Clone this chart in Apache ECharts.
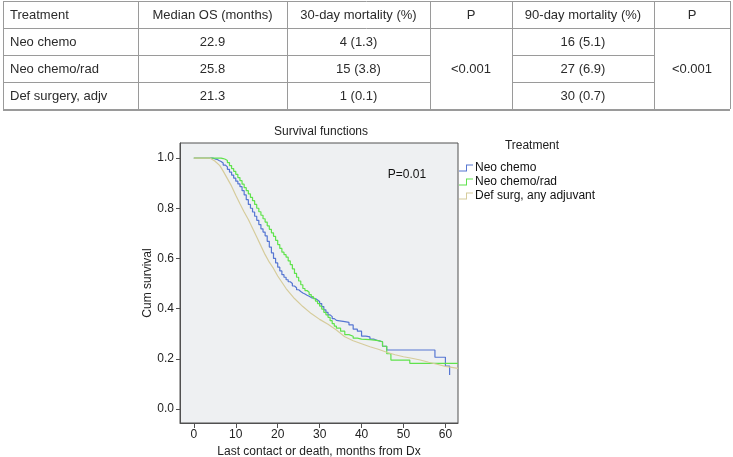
<!DOCTYPE html>
<html>
<head>
<meta charset="utf-8">
<script src="https://cdn.jsdelivr.net/npm/echarts@6/dist/echarts.min.js"></script>
<style>
  html, body { margin: 0; padding: 0; background: #fff; }
  #main { width: 733px; height: 457px; }
</style>
</head>
<body>
<div id="main"></div>
<script>
// table contents
var tableHeader = ['Treatment', 'Median OS (months)', '30-day mortality (%)', 'P', '90-day mortality (%)', 'P'];
var tableTreatments = ['Neo chemo', 'Neo chemo/rad', 'Def surgery, adjv'];
var medianOS = ['22.9', '25.8', '21.3'];
var mortality30 = ['4 (1.3)', '15 (3.8)', '1 (0.1)'];
var pValue30 = '<0.001';
var mortality90 = ['16 (5.1)', '27 (6.9)', '30 (0.7)'];
var pValue90 = '<0.001';

// survival curves: [months, cumulative survival]
var legendNames = ['Neo chemo', 'Neo chemo/rad', 'Def surg, any adjuvant'];
var neoChemo = [
  [0, 1], [4, 1], [4.5, 0.997], [5, 0.995], [5.5, 0.99], [6, 0.986], [6.5, 0.98], [7, 0.972],
  [7.5, 0.965], [8, 0.955], [8.5, 0.944], [9, 0.932], [9.5, 0.92], [10, 0.908], [10.5, 0.897],
  [11, 0.886], [11.5, 0.87], [12, 0.853], [12.5, 0.834], [13, 0.815], [13.5, 0.8], [14, 0.785],
  [14.5, 0.768], [15, 0.752], [15.5, 0.735], [16, 0.718], [16.5, 0.705], [17, 0.69], [17.5, 0.668],
  [18, 0.645], [18.5, 0.622], [19, 0.6], [19.5, 0.582], [20, 0.565], [20.5, 0.55], [21, 0.535],
  [21.5, 0.525], [22, 0.515], [22.5, 0.507], [23, 0.5], [23.5, 0.49], [24, 0.483], [24.5, 0.475],
  [25, 0.468], [25.5, 0.462], [26, 0.458], [26.5, 0.453], [27, 0.449], [27.5, 0.444], [28, 0.44],
  [29, 0.434], [29.5, 0.428], [30, 0.42], [30.5, 0.408], [31, 0.395], [31.5, 0.385], [32, 0.375],
  [32.5, 0.368], [33, 0.36], [33.5, 0.353], [34, 0.348], [36, 0.345], [37, 0.335], [38, 0.318],
  [39, 0.31], [40, 0.29], [41, 0.287], [42, 0.278], [43, 0.272], [44, 0.268], [45, 0.25],
  [46, 0.235], [57.5, 0.206], [60, 0.171], [61, 0.135]
];
var neoChemoRad = [
  [0, 1], [6.5, 0.998], [7, 0.995], [7.5, 0.99], [8, 0.982], [8.5, 0.97], [9, 0.958], [9.5, 0.947],
  [10, 0.935], [10.5, 0.922], [11, 0.91], [11.5, 0.896], [12, 0.882], [12.5, 0.87], [13, 0.857],
  [13.5, 0.843], [14, 0.83], [14.5, 0.815], [15, 0.8], [15.5, 0.786], [16, 0.772], [16.5, 0.758],
  [17, 0.745], [17.5, 0.73], [18, 0.716], [18.5, 0.702], [19, 0.688], [19.5, 0.672], [20, 0.655],
  [20.5, 0.64], [21, 0.625], [21.5, 0.615], [22, 0.605], [22.5, 0.59], [23, 0.575], [23.5, 0.558],
  [24, 0.54], [24.5, 0.525], [25, 0.51], [25.5, 0.495], [26, 0.48], [26.5, 0.472], [27, 0.465],
  [27.5, 0.456], [28, 0.448], [28.5, 0.44], [29, 0.43], [29.5, 0.42], [30, 0.41], [30.5, 0.398],
  [31, 0.385], [31.5, 0.375], [32, 0.365], [32.5, 0.352], [33, 0.34], [33.5, 0.33], [34, 0.322],
  [35, 0.31], [36, 0.296], [37, 0.29], [38, 0.282], [39, 0.278], [40, 0.276], [42, 0.272],
  [44, 0.268], [45, 0.25], [46, 0.22], [47, 0.195], [51.5, 0.182], [63, 0.182]
];
var defSurg = [
  [0, 1], [3.8, 1], [5, 0.988], [6.2, 0.97], [7, 0.948], [8, 0.918], [9, 0.888], [10, 0.852],
  [11, 0.818], [12, 0.785], [13, 0.755], [14, 0.72], [15, 0.685], [16, 0.65], [17, 0.615],
  [18, 0.585], [19, 0.56], [20, 0.53], [21, 0.505], [22, 0.48], [23, 0.46], [24, 0.44],
  [26, 0.408], [28, 0.38], [30, 0.357], [32, 0.338], [34, 0.315], [36, 0.288], [38, 0.272],
  [40, 0.26], [42, 0.248], [44, 0.238], [46, 0.226], [48, 0.216], [50, 0.208], [52, 0.202],
  [54, 0.195], [56, 0.186], [58, 0.178], [60, 0.17], [63, 0.162]
];
var xTicks = [0, 10, 20, 30, 40, 50, 60];
var yTicks = [0, 0.2, 0.4, 0.6, 0.8, 1.0];

var FONT = 'Liberation Sans, Arial, sans-serif';
var colors = ['#5676d2', '#5fe24c', '#d6cc9c'];

// table drawn with graphic elements
var colX = [3, 138, 287, 430, 512, 654, 730];
var rowY = [1, 28, 55, 82, 109];
var lineColor = '#9a9a9a';
var tableEls = [];

function hline(x1, x2, y, w) {
  tableEls.push({ type: 'line', shape: { x1: x1, y1: y, x2: x2, y2: y },
    style: { stroke: lineColor, lineWidth: w || 1 } });
}
function vline(x, y1, y2) {
  tableEls.push({ type: 'line', shape: { x1: x, y1: y1, x2: x, y2: y2 },
    style: { stroke: lineColor, lineWidth: 1 } });
}
function cell(txt, c, yMid, left) {
  tableEls.push({
    type: 'text',
    x: left ? colX[c] + 7 : (colX[c] + colX[c + 1]) / 2,
    y: yMid,
    style: { text: txt, fill: '#2b2b2b', font: '13px ' + FONT,
      textAlign: left ? 'left' : 'center', textVerticalAlign: 'middle' }
  });
}

hline(colX[0], colX[6], rowY[0] + 0.5);
hline(colX[0], colX[6], rowY[1] + 0.5);
[2, 3].forEach(function (r) {
  hline(colX[0], colX[3], rowY[r] + 0.5);
  hline(colX[4], colX[5], rowY[r] + 0.5);
});
hline(colX[0], colX[6], rowY[4] + 1, 2);
colX.forEach(function (x) { vline(x + 0.5, rowY[0], rowY[4]); });

tableHeader.forEach(function (h, c) {
  cell(h, c, (rowY[0] + rowY[1]) / 2 + 1, c === 0);
});
tableTreatments.forEach(function (t, r) {
  var ym = (rowY[r + 1] + rowY[r + 2]) / 2 + 1;
  cell(t, 0, ym, true);
  cell(medianOS[r], 1, ym);
  cell(mortality30[r], 2, ym);
  cell(mortality90[r], 4, ym);
});
cell(pValue30, 3, (rowY[1] + rowY[4]) / 2 + 1);
cell(pValue90, 5, (rowY[1] + rowY[4]) / 2 + 1);

var chart = echarts.init(document.getElementById('main'));

var option = {
  backgroundColor: '#fff',
  animation: false,
  color: colors,
  grid: {
    left: 180, top: 143, width: 278, height: 280,
    outerBoundsMode: 'none',
    show: true, backgroundColor: '#eef0f2', borderColor: '#505050', borderWidth: 1
  },
  legend: {
    orient: 'vertical',
    left: 459, top: 162, padding: 0,
    itemWidth: 14, itemHeight: 7, itemGap: 2,
    icon: 'path://M0,9 L7,9 L7,3 L14,3 L14,4 L8,4 L8,10 L0,10 Z',
    textStyle: { fontFamily: FONT, fontSize: 12, color: '#111', padding: [0, 0, 0, -3] },
    data: legendNames
  },
  xAxis: {
    type: 'value', min: -3.3, max: 63,
    name: 'Last contact or death, months from Dx',
    nameLocation: 'middle', nameGap: 22,
    nameTextStyle: { fontFamily: FONT, fontSize: 12, color: '#222' },
    axisLine: { show: true, onZero: false, lineStyle: { color: '#505050' } },
    axisTick: { show: true, length: 5, customValues: xTicks, lineStyle: { color: '#505050' } },
    axisLabel: { customValues: xTicks, margin: 6, fontFamily: FONT, fontSize: 12, color: '#222' },
    splitLine: { show: false }
  },
  yAxis: {
    type: 'value', min: -0.056, max: 1.06,
    name: 'Cum survival',
    nameLocation: 'middle', nameGap: 26,
    nameTextStyle: { fontFamily: FONT, fontSize: 12, color: '#222' },
    axisLine: { show: true, onZero: false, lineStyle: { color: '#505050' } },
    axisTick: { show: true, length: 4, customValues: yTicks, lineStyle: { color: '#505050' } },
    axisLabel: {
      customValues: yTicks, margin: 6, fontFamily: FONT, fontSize: 12, color: '#222',
      formatter: function (v) { return v.toFixed(1); }
    },
    splitLine: { show: false }
  },
  graphic: tableEls.concat([
    { type: 'text', x: 321, y: 132,
      style: { text: 'Survival functions', font: '12px ' + FONT, fill: '#222',
        textAlign: 'center', textVerticalAlign: 'middle' } },
    { type: 'text', x: 532, y: 146,
      style: { text: 'Treatment', font: '12px ' + FONT, fill: '#222',
        textAlign: 'center', textVerticalAlign: 'middle' } },
    { type: 'text', x: 407, y: 175,
      style: { text: 'P=0.01', font: '12px ' + FONT, fill: '#111',
        textAlign: 'center', textVerticalAlign: 'middle' } }
  ]),
  series: [
    { name: legendNames[0], type: 'line', step: 'end', showSymbol: false, clip: true,
      lineStyle: { width: 1.2 }, data: neoChemo },
    { name: legendNames[1], type: 'line', step: 'end', showSymbol: false, clip: true,
      lineStyle: { width: 1.2 }, data: neoChemoRad },
    { name: legendNames[2], type: 'line', showSymbol: false, clip: true,
      lineStyle: { width: 1.2 }, data: defSurg }
  ]
};

chart.setOption(option);
</script>
</body>
</html>
